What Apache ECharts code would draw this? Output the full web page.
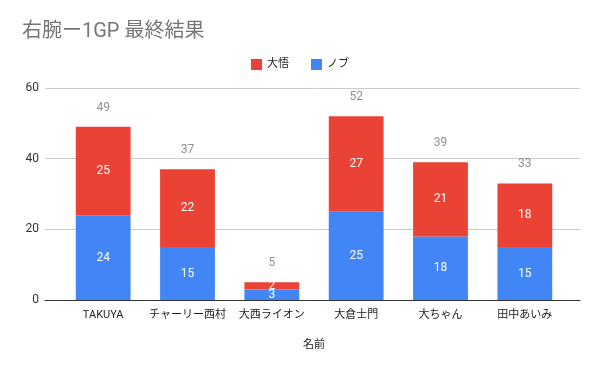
<!DOCTYPE html>
<html><head><meta charset="utf-8">
<script src="https://cdn.jsdelivr.net/npm/echarts@6/dist/echarts.min.js"></script>
<style>html,body{margin:0;padding:0;background:#fff}#c{width:600px;height:371px}</style>
</head><body><div id="c"></div>
<script>
const categories = ['TAKUYA','チャーリー西村','大西ライオン','大倉士門','大ちゃん','田中あいみ'];
const nobu = [24,15,3,25,18,15];
const daigo = [25,22,2,27,21,18];
const yTicks = [0,20,40,60];
const totals = categories.map((c,i)=>nobu[i]+daigo[i]);
const font = 'Roboto, "Noto Sans CJK JP", sans-serif';
const chart = echarts.init(document.getElementById('c'));
chart.setOption({
  backgroundColor:'#fff',
  textStyle:{fontFamily:font},
  title:{text:'右腕ー1GP 最終結果',left:17,top:17,textStyle:{fontFamily:font,fontSize:20,fontWeight:'normal',color:'#757575'}},
  legend:{data:['大悟','ノブ'],top:54,left:'center',itemWidth:11,itemHeight:11,itemGap:22,icon:'rect',textStyle:{fontSize:11,color:'#222'}},
  grid:[
    {left:61,right:33,top:88,bottom:71},
    {left:45,right:20,top:88,bottom:71}
  ],
  xAxis:[
    {gridIndex:0,type:'category',data:categories,axisLine:{show:false},axisTick:{show:false},
     axisLabel:{fontSize:11,color:'#222',margin:10,interval:0},
     name:'名前',nameLocation:'middle',nameGap:40,nameTextStyle:{fontSize:11,color:'#222'}},
    {gridIndex:1,type:'category',data:[''],axisLine:{show:true,lineStyle:{color:'#333'}},axisTick:{show:false},axisLabel:{show:false}}
  ],
  yAxis:[
    {gridIndex:0,type:'value',min:0,max:60,interval:20,show:false},
    {gridIndex:1,type:'value',min:yTicks[0],max:yTicks[yTicks.length-1],interval:20,
     axisLine:{show:false},axisTick:{show:false},
     axisLabel:{fontSize:12,color:'#333',margin:6},
     splitLine:{lineStyle:{color:'#ccc'}}}
  ],
  series:[
    {name:'ノブ',type:'bar',stack:'a',data:nobu,barWidth:'65%',itemStyle:{color:'#4285F4'},
     label:{show:true,position:'inside',color:'#fff',fontSize:12}},
    {name:'大悟',type:'bar',stack:'a',data:daigo,barWidth:'65%',itemStyle:{color:'#EA4335'},
     label:{show:true,position:'inside',color:'#fff',fontSize:12}},
    {name:'total',type:'scatter',data:totals,symbolSize:0,silent:true,
     label:{show:true,position:'top',distance:13,color:'#757575',fontSize:12}}
  ]
});
</script></body></html>
